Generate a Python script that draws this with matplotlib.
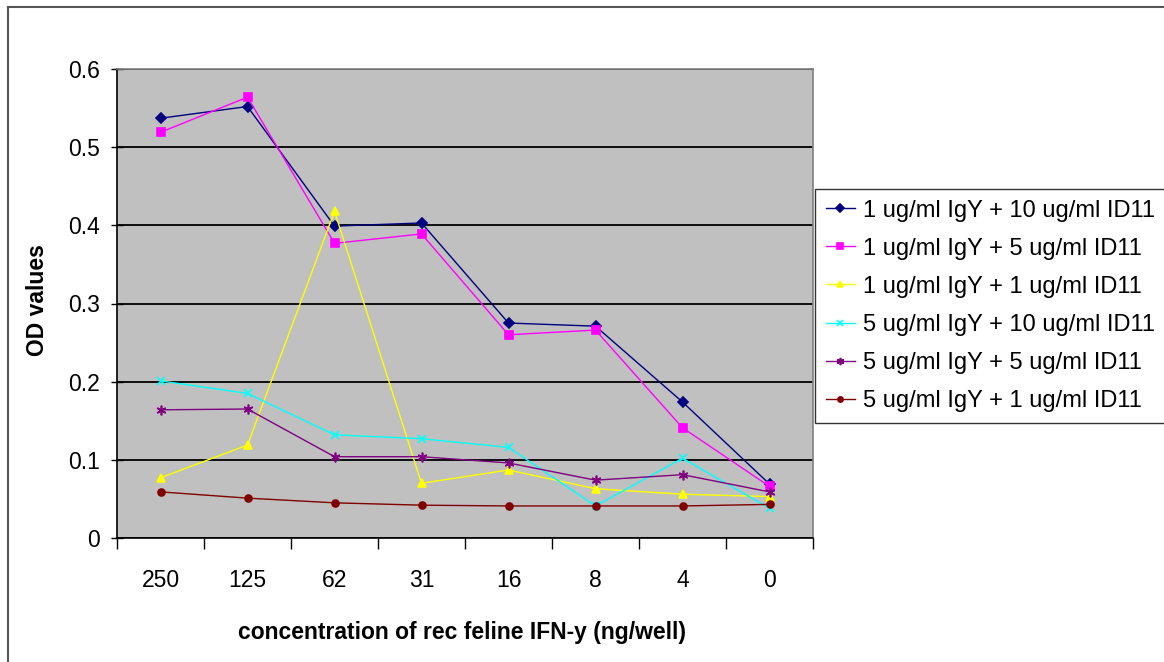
import numpy as np
import matplotlib
matplotlib.use("Agg")
import matplotlib.pyplot as plt
from matplotlib.lines import Line2D

plt.rcParams['font.family'] = ['Liberation Sans', 'DejaVu Sans']

categories = ["250", "125", "62", "31", "16", "8", "4", "0"]
s_igy1_id10 = [0.537, 0.552, 0.399, 0.403, 0.275, 0.271, 0.174, 0.069]
s_igy1_id5 = [0.519, 0.564, 0.377, 0.389, 0.260, 0.266, 0.141, 0.066]
s_igy1_id1 = [0.077, 0.119, 0.418, 0.070, 0.087, 0.063, 0.056, 0.053]
s_igy5_id10 = [0.201, 0.185, 0.132, 0.127, 0.116, 0.041, 0.102, 0.038]
s_igy5_id5 = [0.164, 0.165, 0.104, 0.104, 0.096, 0.074, 0.081, 0.059]
s_igy5_id1 = [0.059, 0.051, 0.045, 0.042, 0.041, 0.041, 0.041, 0.043]
labels = ["1 ug/ml IgY + 10 ug/ml ID11", "1 ug/ml IgY + 5 ug/ml ID11",
          "1 ug/ml IgY + 1 ug/ml ID11", "5 ug/ml IgY + 10 ug/ml ID11",
          "5 ug/ml IgY + 5 ug/ml ID11", "5 ug/ml IgY + 1 ug/ml ID11"]
yticks = [0, 0.1, 0.2, 0.3, 0.4, 0.5, 0.6]

series = [s_igy1_id10, s_igy1_id5, s_igy1_id1, s_igy5_id10, s_igy5_id5, s_igy5_id1]
colors = ["#000080", "#FF00FF", "#FFFF00", "#00FFFF", "#800080", "#800000"]
markers = ["D", "s", "^", "x", (6, 2, 0), "o"]
msizes = [5, 6, 6, 6, 7, 5]

fig = plt.figure(figsize=(11.64, 6.62), dpi=100)
fig.patch.set_facecolor("white")
# outer frame (top and left)
fig.add_artist(Line2D([8/1164, 1.0], [1 - 7/662, 1 - 7/662], color="#555555", lw=1.5, transform=fig.transFigure))
fig.add_artist(Line2D([8/1164, 8/1164], [1 - 7/662, 0.0], color="#555555", lw=1.5, transform=fig.transFigure))

ax = fig.add_axes([117/1164, 1 - 538/662, (813 - 117)/1164, (538 - 69)/662])
ax.set_facecolor("#C0C0C0")

x = np.arange(len(categories))
for vals, c, m, ms, lab in zip(series, colors, markers, msizes, labels):
    ax.plot(x, vals, color=c, marker=m, markersize=ms, lw=1.0, label=lab,
            markeredgecolor=c, markerfacecolor=c, markeredgewidth=1.2)

ax.set_xlim(-0.5, len(categories) - 0.5)
ax.set_ylim(0, 0.6)
ax.set_yticks(yticks)
ax.set_yticklabels([("%g" % v) for v in yticks])
ax.yaxis.grid(True, color="black", lw=1.3)
ax.set_axisbelow(True)

ax.set_xticks(np.arange(-0.5, len(categories), 1.0))
ax.set_xticklabels([])
ax.set_xticks(x, minor=True)
ax.set_xticklabels(categories, minor=True)
ax.tick_params(axis="x", which="major", length=8, width=1, direction="out", color="black")
ax.tick_params(axis="x", which="minor", length=0, labelsize=16.5, pad=22)
ax.tick_params(axis="y", length=8, width=1, direction="inout", labelsize=16.5, pad=8)

for s in ["left", "bottom"]:
    ax.spines[s].set_color("black")
    ax.spines[s].set_linewidth(1.2)
for s in ["top", "right"]:
    ax.spines[s].set_color("#808080")
    ax.spines[s].set_linewidth(1.2)

fig.text(462/1164, 1 - 632/662, "concentration of rec feline IFN-y (ng/well)",
         ha="center", va="center", fontsize=16.5, fontweight="bold")
fig.text(37/1164, 1 - 300/662, "OD values", ha="center", va="center",
         rotation=90, fontsize=16.5, fontweight="bold")

leg = fig.legend(loc="upper left", bbox_to_anchor=(815/1164, 1 - 189/662),
                 frameon=True, fancybox=False, fontsize=17, handlelength=1.25,
                 handletextpad=0.35, labelspacing=0.68, borderpad=0.45,
                 borderaxespad=0, markerscale=0.75)
leg.get_frame().set_edgecolor("black")
leg.get_frame().set_linewidth(1.0)

fig.savefig("out.png", dpi=100, facecolor="white")
